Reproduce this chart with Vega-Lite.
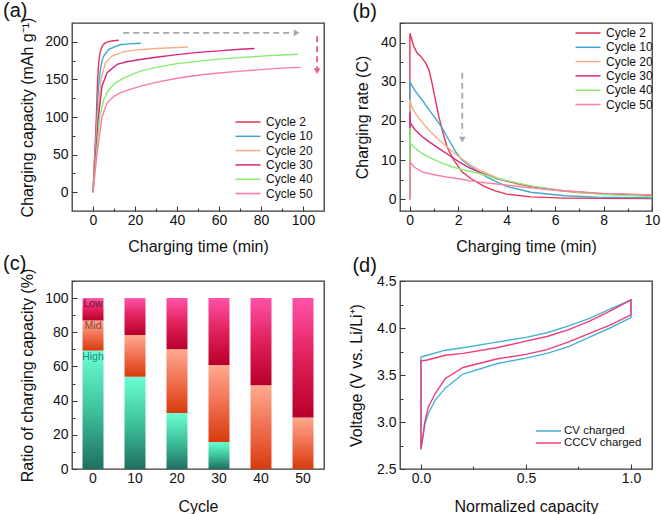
{
 "$schema": "https://vega.github.io/schema/vega-lite/v6.json",
 "autosize": "none",
 "padding": {"left": 72, "top": 23, "right": 589, "bottom": 491},
 "columns": 2,
 "spacing": {"row": 70, "column": 76},
 "bounds": "flush",
 "resolve": {"scale": {"color": "independent"}, "legend": {"color": "independent"}},
 "config": {
  "font": "Liberation Sans",
  "view": {"stroke": "#3a3a3a", "strokeWidth": 1.3},
  "axis": {"domain": false, "grid": false, "tickColor": "#333", "tickWidth": 1, "labelFontSize": 14, "labelColor": "#111", "titleFontSize": 16, "titleFontWeight": "normal", "titleColor": "#111", "labelFlush": false, "labelOverlap": false},
  "axisX": {"titlePadding": 11, "labelPadding": 7},
  "axisY": {"titlePadding": 9.5, "labelPadding": 9},
  "legend": {"titleFontSize": 0, "labelFontSize": 12, "labelColor": "#111", "symbolStrokeWidth": 1.5, "symbolType": "M-2,0H2", "symbolSize": 156, "labelOffset": 11, "rowPadding": 1.3, "padding": 0},
  "title": {"fontSize": 20, "fontWeight": "normal", "anchor": "start", "frame": "group", "baseline": "alphabetic", "color": "#111", "font": "Liberation Sans"}
 },
 "datasets": {
  "a": [
   {"c":"Cycle 2","t":0,"q":0},{"c":"Cycle 2","t":0.8,"q":50},{"c":"Cycle 2","t":1.6,"q":100},{"c":"Cycle 2","t":2.2,"q":150},{"c":"Cycle 2","t":2.7,"q":172},{"c":"Cycle 2","t":3.3,"q":185},{"c":"Cycle 2","t":4.3,"q":194},{"c":"Cycle 2","t":5.5,"q":198},{"c":"Cycle 2","t":6.7,"q":199.5},{"c":"Cycle 2","t":9,"q":201},{"c":"Cycle 2","t":12.3,"q":202},
   {"c":"Cycle 10","t":0,"q":0},{"c":"Cycle 10","t":1,"q":50},{"c":"Cycle 10","t":1.9,"q":100},{"c":"Cycle 10","t":2.6,"q":140},{"c":"Cycle 10","t":3.5,"q":163},{"c":"Cycle 10","t":4.3,"q":175},{"c":"Cycle 10","t":5.1,"q":181},{"c":"Cycle 10","t":7.5,"q":190},{"c":"Cycle 10","t":10,"q":193},{"c":"Cycle 10","t":13,"q":196},{"c":"Cycle 10","t":17,"q":197.3},{"c":"Cycle 10","t":22.8,"q":198},
   {"c":"Cycle 20","t":0,"q":0},{"c":"Cycle 20","t":1.1,"q":50},{"c":"Cycle 20","t":2.2,"q":100},{"c":"Cycle 20","t":3.8,"q":150},{"c":"Cycle 20","t":5.9,"q":172},{"c":"Cycle 20","t":9.1,"q":181},{"c":"Cycle 20","t":14.7,"q":187},{"c":"Cycle 20","t":20,"q":189},{"c":"Cycle 20","t":30,"q":191},{"c":"Cycle 20","t":40,"q":192.5},{"c":"Cycle 20","t":45.3,"q":193},
   {"c":"Cycle 30","t":0,"q":0},{"c":"Cycle 30","t":1.3,"q":50},{"c":"Cycle 30","t":2.6,"q":100},{"c":"Cycle 30","t":4.3,"q":141},{"c":"Cycle 30","t":6.7,"q":159},{"c":"Cycle 30","t":11.5,"q":170},{"c":"Cycle 30","t":16,"q":173.5},{"c":"Cycle 30","t":22.6,"q":176.5},{"c":"Cycle 30","t":30,"q":179.5},{"c":"Cycle 30","t":40,"q":183},{"c":"Cycle 30","t":50,"q":186},{"c":"Cycle 30","t":60,"q":188},{"c":"Cycle 30","t":70,"q":190},{"c":"Cycle 30","t":76.9,"q":191},
   {"c":"Cycle 40","t":0,"q":0},{"c":"Cycle 40","t":1.6,"q":50},{"c":"Cycle 40","t":3.2,"q":100},{"c":"Cycle 40","t":5.1,"q":123},{"c":"Cycle 40","t":7,"q":134},{"c":"Cycle 40","t":10,"q":144},{"c":"Cycle 40","t":14.7,"q":152},{"c":"Cycle 40","t":22.6,"q":161},{"c":"Cycle 40","t":30,"q":166},{"c":"Cycle 40","t":40,"q":171},{"c":"Cycle 40","t":50,"q":174},{"c":"Cycle 40","t":60,"q":177},{"c":"Cycle 40","t":70,"q":179},{"c":"Cycle 40","t":80,"q":181},{"c":"Cycle 40","t":90,"q":182.5},{"c":"Cycle 40","t":97.6,"q":183.5},
   {"c":"Cycle 50","t":0,"q":0},{"c":"Cycle 50","t":1.9,"q":51},{"c":"Cycle 50","t":4.3,"q":100},{"c":"Cycle 50","t":6.7,"q":118.6},{"c":"Cycle 50","t":9.9,"q":127.5},{"c":"Cycle 50","t":13,"q":132},{"c":"Cycle 50","t":17,"q":136},{"c":"Cycle 50","t":22.6,"q":141},{"c":"Cycle 50","t":30,"q":146},{"c":"Cycle 50","t":40,"q":151.5},{"c":"Cycle 50","t":50,"q":155.5},{"c":"Cycle 50","t":60,"q":158.5},{"c":"Cycle 50","t":70,"q":161},{"c":"Cycle 50","t":80,"q":163},{"c":"Cycle 50","t":90,"q":165},{"c":"Cycle 50","t":98.9,"q":166}
  ],
  "arrA": [
   {"kind":"h","t":14.4,"t2":95,"q":212},
   {"kind":"v","t":106.7,"q":207.5,"q2":164}
  ],
  "headA": [
   {"kind":"h","t":97,"q":212},
   {"kind":"v","t":106.7,"q":161}
  ],
  "b": [
   {"c":"Cycle 2","t":0,"r":0},{"c":"Cycle 2","t":0.01,"r":42.4},{"c":"Cycle 2","t":0.165,"r":39.1},{"c":"Cycle 2","t":0.3,"r":37.4},{"c":"Cycle 2","t":0.44,"r":36.6},{"c":"Cycle 2","t":0.65,"r":34.9},{"c":"Cycle 2","t":0.79,"r":33.1},{"c":"Cycle 2","t":0.92,"r":29.7},{"c":"Cycle 2","t":1.06,"r":25.4},{"c":"Cycle 2","t":1.2,"r":21.2},{"c":"Cycle 2","t":1.34,"r":17.7},{"c":"Cycle 2","t":1.54,"r":13.4},{"c":"Cycle 2","t":1.82,"r":10},{"c":"Cycle 2","t":2.16,"r":7},{"c":"Cycle 2","t":2.52,"r":5.3},{"c":"Cycle 2","t":3.07,"r":3.3},{"c":"Cycle 2","t":3.5,"r":2.2},{"c":"Cycle 2","t":4,"r":1.3},{"c":"Cycle 2","t":5,"r":0.6},{"c":"Cycle 2","t":6.4,"r":0.3},{"c":"Cycle 2","t":8,"r":0.25},{"c":"Cycle 2","t":10,"r":0.2},
   {"c":"Cycle 10","t":0,"r":0},{"c":"Cycle 10","t":0.01,"r":29.9},{"c":"Cycle 10","t":0.23,"r":27.6},{"c":"Cycle 10","t":0.51,"r":25.4},{"c":"Cycle 10","t":0.79,"r":22.9},{"c":"Cycle 10","t":1.06,"r":20.7},{"c":"Cycle 10","t":1.34,"r":18.2},{"c":"Cycle 10","t":1.61,"r":15.2},{"c":"Cycle 10","t":1.89,"r":12.2},{"c":"Cycle 10","t":2.16,"r":10},{"c":"Cycle 10","t":2.52,"r":8.3},{"c":"Cycle 10","t":3.2,"r":5.6},{"c":"Cycle 10","t":4,"r":3.3},{"c":"Cycle 10","t":5,"r":1.8},{"c":"Cycle 10","t":6.4,"r":0.9},{"c":"Cycle 10","t":7.75,"r":0.55},{"c":"Cycle 10","t":10,"r":0.35},
   {"c":"Cycle 20","t":0,"r":0},{"c":"Cycle 20","t":0.01,"r":25.4},{"c":"Cycle 20","t":0.1,"r":23.3},{"c":"Cycle 20","t":0.37,"r":20.7},{"c":"Cycle 20","t":0.79,"r":17.7},{"c":"Cycle 20","t":1.2,"r":15.2},{"c":"Cycle 20","t":1.61,"r":13},{"c":"Cycle 20","t":2.02,"r":10.9},{"c":"Cycle 20","t":2.5,"r":8.8},{"c":"Cycle 20","t":2.93,"r":7.3},{"c":"Cycle 20","t":3.6,"r":5.5},{"c":"Cycle 20","t":4.45,"r":3.8},{"c":"Cycle 20","t":5.7,"r":2.5},{"c":"Cycle 20","t":7.1,"r":1.6},{"c":"Cycle 20","t":8.5,"r":1.3},{"c":"Cycle 20","t":10,"r":1.1},
   {"c":"Cycle 30","t":0,"r":0},{"c":"Cycle 30","t":0.01,"r":22.4},{"c":"Cycle 30","t":0.03,"r":19.4},{"c":"Cycle 30","t":0.23,"r":17.7},{"c":"Cycle 30","t":0.51,"r":16},{"c":"Cycle 30","t":0.79,"r":14.7},{"c":"Cycle 30","t":1.2,"r":13},{"c":"Cycle 30","t":1.61,"r":11.3},{"c":"Cycle 30","t":2.02,"r":9.6},{"c":"Cycle 30","t":2.5,"r":7.9},{"c":"Cycle 30","t":2.93,"r":6.8},{"c":"Cycle 30","t":3.6,"r":5.2},{"c":"Cycle 30","t":5,"r":3.3},{"c":"Cycle 30","t":6.4,"r":2.1},{"c":"Cycle 30","t":7.75,"r":1.5},{"c":"Cycle 30","t":10,"r":1.0},
   {"c":"Cycle 40","t":0,"r":0},{"c":"Cycle 40","t":0.01,"r":18.2},{"c":"Cycle 40","t":0.03,"r":14.3},{"c":"Cycle 40","t":0.23,"r":13},{"c":"Cycle 40","t":0.51,"r":11.7},{"c":"Cycle 40","t":0.92,"r":10.4},{"c":"Cycle 40","t":1.34,"r":9.2},{"c":"Cycle 40","t":1.75,"r":8.3},{"c":"Cycle 40","t":2.16,"r":7.6},{"c":"Cycle 40","t":2.93,"r":6.5},{"c":"Cycle 40","t":3.6,"r":5.3},{"c":"Cycle 40","t":5,"r":3.4},{"c":"Cycle 40","t":6.4,"r":2.1},{"c":"Cycle 40","t":8,"r":1.2},{"c":"Cycle 40","t":10,"r":0.7},
   {"c":"Cycle 50","t":0,"r":0},{"c":"Cycle 50","t":0.02,"r":9.6},{"c":"Cycle 50","t":0.165,"r":8.3},{"c":"Cycle 50","t":0.51,"r":7},{"c":"Cycle 50","t":1.06,"r":6.2},{"c":"Cycle 50","t":1.61,"r":5.6},{"c":"Cycle 50","t":2.16,"r":5.1},{"c":"Cycle 50","t":2.5,"r":4.7},{"c":"Cycle 50","t":3,"r":4.3},{"c":"Cycle 50","t":3.6,"r":3.9},{"c":"Cycle 50","t":5,"r":2.9},{"c":"Cycle 50","t":6.4,"r":2.1},{"c":"Cycle 50","t":8,"r":1.5},{"c":"Cycle 50","t":10,"r":1.1}
  ],
  "arrB": [{"t":2.17,"r":32.3,"r2":16.8}],
  "headB": [{"t":2.17,"r":15.2}],
  "c": [
   {"cycle":0,"level":"High","k":1,"pct":69.3},{"cycle":0,"level":"Mid","k":2,"pct":17.6},{"cycle":0,"level":"Low","k":3,"pct":13.1},
   {"cycle":10,"level":"High","k":1,"pct":54},{"cycle":10,"level":"Mid","k":2,"pct":24.4},{"cycle":10,"level":"Low","k":3,"pct":21.6},
   {"cycle":20,"level":"High","k":1,"pct":32.8},{"cycle":20,"level":"Mid","k":2,"pct":37.2},{"cycle":20,"level":"Low","k":3,"pct":30},
   {"cycle":30,"level":"High","k":1,"pct":15.8},{"cycle":30,"level":"Mid","k":2,"pct":45},{"cycle":30,"level":"Low","k":3,"pct":39.2},
   {"cycle":40,"level":"High","k":1,"pct":0},{"cycle":40,"level":"Mid","k":2,"pct":49},{"cycle":40,"level":"Low","k":3,"pct":51},
   {"cycle":50,"level":"High","k":1,"pct":0},{"cycle":50,"level":"Mid","k":2,"pct":30.2},{"cycle":50,"level":"Low","k":3,"pct":69.8}
  ],
  "d": [
   {"s":"CV charged","i":0,"x":0,"v":2.71},{"s":"CV charged","i":1,"x":0,"v":3.69},{"s":"CV charged","i":2,"x":0.03,"v":3.71},{"s":"CV charged","i":3,"x":0.115,"v":3.764},{"s":"CV charged","i":4,"x":0.2,"v":3.79},{"s":"CV charged","i":5,"x":0.36,"v":3.85},{"s":"CV charged","i":6,"x":0.5,"v":3.9},{"s":"CV charged","i":7,"x":0.6,"v":3.95},{"s":"CV charged","i":8,"x":0.7,"v":4.02},{"s":"CV charged","i":9,"x":0.8,"v":4.1},{"s":"CV charged","i":10,"x":0.9,"v":4.2},{"s":"CV charged","i":11,"x":1.0,"v":4.3},{"s":"CV charged","i":12,"x":1.0,"v":4.11},{"s":"CV charged","i":13,"x":0.9,"v":4.0},{"s":"CV charged","i":14,"x":0.8,"v":3.9},{"s":"CV charged","i":15,"x":0.7,"v":3.8},{"s":"CV charged","i":16,"x":0.6,"v":3.73},{"s":"CV charged","i":17,"x":0.5,"v":3.68},{"s":"CV charged","i":18,"x":0.36,"v":3.62},{"s":"CV charged","i":19,"x":0.2,"v":3.51},{"s":"CV charged","i":20,"x":0.115,"v":3.36},{"s":"CV charged","i":21,"x":0.067,"v":3.23},{"s":"CV charged","i":22,"x":0.035,"v":3.09},{"s":"CV charged","i":23,"x":0.019,"v":2.98},{"s":"CV charged","i":24,"x":0,"v":2.71},
   {"s":"CCCV charged","i":0,"x":0,"v":2.71},{"s":"CCCV charged","i":1,"x":0,"v":3.65},{"s":"CCCV charged","i":2,"x":0.03,"v":3.66},{"s":"CCCV charged","i":3,"x":0.115,"v":3.71},{"s":"CCCV charged","i":4,"x":0.2,"v":3.73},{"s":"CCCV charged","i":5,"x":0.36,"v":3.79},{"s":"CCCV charged","i":6,"x":0.5,"v":3.86},{"s":"CCCV charged","i":7,"x":0.6,"v":3.91},{"s":"CCCV charged","i":8,"x":0.7,"v":3.98},{"s":"CCCV charged","i":9,"x":0.8,"v":4.07},{"s":"CCCV charged","i":10,"x":0.9,"v":4.18},{"s":"CCCV charged","i":11,"x":1.0,"v":4.3},{"s":"CCCV charged","i":12,"x":1.0,"v":4.14},{"s":"CCCV charged","i":13,"x":0.9,"v":4.03},{"s":"CCCV charged","i":14,"x":0.8,"v":3.94},{"s":"CCCV charged","i":15,"x":0.7,"v":3.85},{"s":"CCCV charged","i":16,"x":0.6,"v":3.77},{"s":"CCCV charged","i":17,"x":0.5,"v":3.72},{"s":"CCCV charged","i":18,"x":0.36,"v":3.67},{"s":"CCCV charged","i":19,"x":0.2,"v":3.58},{"s":"CCCV charged","i":20,"x":0.115,"v":3.46},{"s":"CCCV charged","i":21,"x":0.067,"v":3.3},{"s":"CCCV charged","i":22,"x":0.035,"v":3.16},{"s":"CCCV charged","i":23,"x":0.019,"v":3.01},{"s":"CCCV charged","i":24,"x":0,"v":2.71}
  ]
 },
 "concat": [
  {
   "width": 252, "height": 188,
   "title": {"text": "(a)", "dx": -69, "offset": -4},
   "resolve": {"axis": {"x": "independent", "y": "independent"}},
   "layer": [
    {
     "data": {"name": "a"},
     "mark": {"type": "line", "strokeWidth": 1.4},
     "encoding": {
      "x": {"field": "t", "type": "quantitative", "scale": {"domain": [-10, 110], "nice": false, "zero": false},
            "axis": {"orient": "bottom", "title": "Charging time (min)", "values": [0,20,40,60,80,100], "tickSize": -5}},
      "y": {"field": "q", "type": "quantitative", "scale": {"domain": [-25, 225], "nice": false, "zero": false},
            "axis": {"orient": "left", "title": "Charging capacity (mAh g⁻¹)", "values": [0,50,100,150,200], "tickSize": -5}},
      "color": {"field": "c", "type": "nominal",
                "scale": {"domain": ["Cycle 2","Cycle 10","Cycle 20","Cycle 30","Cycle 40","Cycle 50"], "range": ["#e8325a","#40a8cc","#f9ad86","#d6287c","#86ee72","#f87fa2"]},
                "legend": {"title": null, "orient": "none", "legendX": 169, "legendY": 92}}
     }
    },
    {
     "data": {"name": "arrA"},
     "transform": [{"filter": "datum.kind === 'h'"}],
     "mark": {"type": "rule", "color": "#a3a9b0", "strokeDash": [6, 4], "strokeWidth": 1.8},
     "encoding": {
      "x": {"field": "t", "type": "quantitative", "axis": {"orient": "bottom", "values": [10,30,50,70,90], "labels": false, "tickSize": -3, "title": null}},
      "x2": {"field": "t2"},
      "y": {"field": "q", "type": "quantitative", "axis": {"orient": "left", "values": [25,75,125,175], "labels": false, "tickSize": -3, "title": null}}
     }
    },
    {
     "data": {"name": "arrA"},
     "transform": [{"filter": "datum.kind === 'v'"}],
     "mark": {"type": "rule", "color": "#f05a8a", "strokeDash": [6, 4], "strokeWidth": 1.8},
     "encoding": {"x": {"field": "t", "type": "quantitative", "axis": null}, "y": {"field": "q", "type": "quantitative", "axis": null}, "y2": {"field": "q2"}}
    },
    {
     "data": {"name": "headA"},
     "transform": [{"filter": "datum.kind === 'h'"}],
     "mark": {"type": "point", "shape": "triangle-right", "filled": true, "color": "#a3a9b0", "size": 45, "opacity": 1},
     "encoding": {"x": {"field": "t", "type": "quantitative", "axis": null}, "y": {"field": "q", "type": "quantitative", "axis": null}}
    },
    {
     "data": {"name": "headA"},
     "transform": [{"filter": "datum.kind === 'v'"}],
     "mark": {"type": "point", "shape": "triangle-down", "filled": true, "color": "#f05a8a", "size": 45, "opacity": 1},
     "encoding": {"x": {"field": "t", "type": "quantitative", "axis": null}, "y": {"field": "q", "type": "quantitative", "axis": null}}
    }
   ]
  },
  {
   "width": 252, "height": 188,
   "title": {"text": "(b)", "dx": -47.6, "offset": 1},
   "resolve": {"axis": {"x": "independent", "y": "independent"}},
   "layer": [
    {
     "data": {"name": "b"},
     "mark": {"type": "line", "strokeWidth": 1.4},
     "encoding": {
      "x": {"field": "t", "type": "quantitative", "scale": {"domain": [-0.4, 10], "nice": false, "zero": false},
            "axis": {"orient": "bottom", "title": "Charging time (min)", "values": [0,2,4,6,8,10], "tickSize": -5}},
      "y": {"field": "r", "type": "quantitative", "scale": {"domain": [-3, 45], "nice": false, "zero": false},
            "axis": {"orient": "left", "title": "Charging rate (C)", "values": [0,10,20,30,40], "tickSize": -5}},
      "color": {"field": "c", "type": "nominal",
                "scale": {"domain": ["Cycle 2","Cycle 10","Cycle 20","Cycle 30","Cycle 40","Cycle 50"], "range": ["#e8325a","#40a8cc","#f9ad86","#d6287c","#86ee72","#f87fa2"]},
                "legend": {"title": null, "orient": "none", "legendX": 181, "legendY": 3}}
     }
    },
    {
     "data": {"name": "arrB"},
     "mark": {"type": "rule", "color": "#a3a9b0", "strokeDash": [6, 4], "strokeWidth": 1.8},
     "encoding": {
      "x": {"field": "t", "type": "quantitative", "axis": {"orient": "bottom", "values": [1,3,5,7,9], "labels": false, "tickSize": -3, "title": null}},
      "y": {"field": "r", "type": "quantitative", "axis": {"orient": "left", "values": [5,15,25,35,45], "labels": false, "tickSize": -3, "title": null}},
      "y2": {"field": "r2"}
     }
    },
    {
     "data": {"name": "headB"},
     "mark": {"type": "point", "shape": "triangle-down", "filled": true, "color": "#a3a9b0", "size": 45, "opacity": 1},
     "encoding": {"x": {"field": "t", "type": "quantitative", "axis": null}, "y": {"field": "r", "type": "quantitative", "axis": null}}
    }
   ]
  },
  {
   "width": 252, "height": 188,
   "title": {"text": "(c)", "dx": -69, "offset": -6},
   "data": {"name": "c"},
   "transform": [{"stack": "pct", "groupby": ["cycle"], "sort": [{"field": "k", "order": "ascending"}], "as": ["y0", "y1"]}],
   "resolve": {"axis": {"y": "independent"}},
   "encoding": {
    "x": {"field": "cycle", "type": "ordinal", "scale": {"paddingInner": 0.5, "paddingOuter": 0.25},
          "axis": {"title": "Cycle", "labelAngle": 0, "tickSize": -5, "titlePadding": 13}}
   },
   "layer": [
    {
     "transform": [{"filter": "datum.level === 'High'"}],
     "mark": {"type": "bar", "fill": {"gradient": "linear", "x1": 0, "y1": 1, "x2": 0, "y2": 0, "stops": [{"offset": 0, "color": "#1f6f60"}, {"offset": 0.5, "color": "#3fc29c"}, {"offset": 1, "color": "#6bffd2"}]}},
     "encoding": {
      "y": {"field": "y0", "type": "quantitative", "scale": {"domain": [0, 110], "nice": false},
            "axis": {"orient": "left", "title": "Ratio of charging capacity (%)", "values": [0,20,40,60,80,100], "tickSize": -5, "labelOverlap": false}},
      "y2": {"field": "y1"}
     }
    },
    {
     "transform": [{"filter": "datum.level === 'Mid'"}],
     "mark": {"type": "bar", "fill": {"gradient": "linear", "x1": 0, "y1": 1, "x2": 0, "y2": 0, "stops": [{"offset": 0, "color": "#d83a0c"}, {"offset": 0.5, "color": "#f07050"}, {"offset": 1, "color": "#ffaa90"}]}},
     "encoding": {"y": {"field": "y0", "type": "quantitative", "axis": {"orient": "left", "values": [10,30,50,70,90,110], "labels": false, "tickSize": -3, "title": null}}, "y2": {"field": "y1"}}
    },
    {
     "transform": [{"filter": "datum.level === 'Low'"}],
     "mark": {"type": "bar", "fill": {"gradient": "linear", "x1": 0, "y1": 1, "x2": 0, "y2": 0, "stops": [{"offset": 0, "color": "#b8002a"}, {"offset": 0.5, "color": "#e0205a"}, {"offset": 1, "color": "#ff52a8"}]}},
     "encoding": {"y": {"field": "y0", "type": "quantitative", "axis": null}, "y2": {"field": "y1"}}
    },
    {
     "transform": [{"filter": "datum.cycle === 0"}],
     "mark": {"type": "text", "baseline": "top", "dy": 1, "fontSize": 10.5},
     "encoding": {
      "y": {"field": "y1", "type": "quantitative", "axis": null},
      "text": {"field": "level"},
      "color": {"field": "level", "type": "nominal", "scale": {"domain": ["High", "Mid", "Low"], "range": ["#2a8a82", "#8a4535", "#6a1030"]}, "legend": null}
     }
    }
   ]
  },
  {
   "width": 252, "height": 188,
   "title": {"text": "(d)", "dx": -47.6, "offset": -2},
   "data": {"name": "d"},
   "resolve": {"axis": {"x": "independent", "y": "independent"}},
   "layer": [
    {
     "transform": [{"filter": "datum.s === 'CV charged'"}],
     "mark": {"type": "line", "strokeWidth": 1.4},
     "encoding": {
      "x": {"field": "x", "type": "quantitative", "scale": {"domain": [-0.1, 1.1], "nice": false, "zero": false},
            "axis": {"orient": "bottom", "title": "Normalized capacity", "format": ".1f", "values": [0, 0.5, 1], "tickSize": -5, "titlePadding": 13}},
      "y": {"field": "v", "type": "quantitative", "scale": {"domain": [2.5, 4.5], "nice": false, "zero": false},
            "axis": {"orient": "left", "title": "Voltage (V vs. Li/Li⁺)", "format": ".1f", "values": [2.5, 3, 3.5, 4, 4.5], "tickSize": -5, "titlePadding": 12}},
      "order": {"field": "i", "type": "quantitative"},
      "color": {"field": "s", "type": "nominal",
                "scale": {"domain": ["CV charged", "CCCV charged"], "range": ["#45b3d9", "#f03c7c"]},
                "legend": {"title": null, "orient": "none", "legendX": 142.5, "legendY": 144, "symbolType": "M-2.5,0H2.5", "symbolSize": 100, "rowPadding": 0, "labelOffset": 9.5, "labelFontSize": 11.5}}
     }
    },
    {
     "transform": [{"filter": "datum.s === 'CCCV charged'"}],
     "mark": {"type": "line", "strokeWidth": 1.4},
     "encoding": {
      "x": {"field": "x", "type": "quantitative", "axis": {"orient": "bottom", "values": [0.25, 0.75], "labels": false, "tickSize": -3, "title": null}},
      "y": {"field": "v", "type": "quantitative", "axis": {"orient": "left", "values": [2.75, 3.25, 3.75, 4.25], "labels": false, "tickSize": -3, "title": null}},
      "order": {"field": "i", "type": "quantitative"},
      "color": {"field": "s", "type": "nominal",
                "scale": {"domain": ["CV charged", "CCCV charged"], "range": ["#45b3d9", "#f03c7c"]},
                "legend": {"title": null, "orient": "none", "legendX": 142.5, "legendY": 144, "symbolType": "M-2.5,0H2.5", "symbolSize": 100, "rowPadding": 0, "labelOffset": 9.5, "labelFontSize": 11.5}}
     }
    }
   ]
  }
 ]
}
